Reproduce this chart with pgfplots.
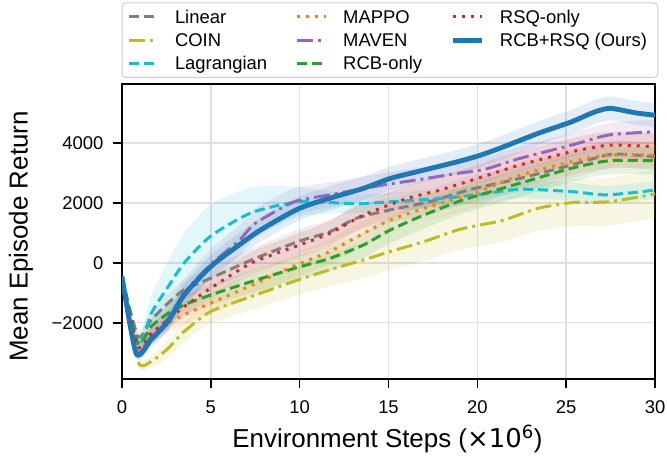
\documentclass[border=0pt]{standalone}
\usepackage{fontspec}
\setmainfont{Liberation Sans}
\newfontfamily\dejavu{DejaVu Sans}
\usepackage{pgfplots}
\pgfplotsset{compat=1.18}
\usepackage{pgfplotstable}
\usepgfplotslibrary{fillbetween}

\definecolor{tabblue}{HTML}{1F77B4}
\definecolor{taborange}{HTML}{FF7F0E}
\definecolor{tabgreen}{HTML}{2CA02C}
\definecolor{tabred}{HTML}{D62728}
\definecolor{tabpurple}{HTML}{9467BD}
\definecolor{tabgray}{HTML}{7F7F7F}
\definecolor{tabolive}{HTML}{BCBD22}
\definecolor{tabcyan}{HTML}{17BECF}

\pgfplotstableread{
x y s
0 -460 50
0.9 -2460 200
1.65 -1900 250
2.6 -1340 300
3.5 -900 330
5 -510 350
7.3 100 380
9.9 710 400
11.7 1040 400
13.2 1490 420
15.1 1770 420
17.3 2040 430
19.6 2450 440
22.4 2820 450
25.3 3270 450
27.6 3630 450
30 3540 450
}\tlinear

\pgfplotstableread{
x y s
0 -460 50
0.9 -3290 150
1.65 -3290 200
2.6 -2850 300
3.5 -2290 350
5 -1620 400
7.3 -1120 450
9.9 -570 500
11.7 -230 550
13.6 100 600
15.1 380 620
17 710 650
18.9 1100 680
20.2 1270 700
21.5 1430 720
23.4 1820 750
25.3 2010 780
27.4 2040 800
30 2300 800
}\tcoin

\pgfplotstableread{
x y s
0 -460 50
0.9 -2750 200
1.65 -1680 600
2.6 -790 850
3.5 0 1000
5 900 1050
7.3 1680 850
9.9 2040 500
11.9 2010 350
13.2 1970 320
15.1 2040 300
17.9 2150 300
20.2 2290 300
22.4 2460 300
25.3 2380 300
27.3 2270 300
30 2430 300
}\tlag

\pgfplotstableread{
x y s
0 -460 50
0.9 -2850 200
1.65 -2460 250
2.6 -2010 300
3.5 -1730 320
5 -1340 350
7.3 -750 380
9.7 -100 400
11.7 380 420
13.6 990 430
15.1 1430 440
17 1820 450
18.9 2160 450
20.2 2400 450
22.4 2930 450
25.3 3380 450
27.4 3600 450
30 3600 450
}\tmappo

\pgfplotstableread{
x y s
0 -460 50
0.8 -2950 200
1.65 -2450 300
2.6 -1850 400
3.5 -1000 450
5 -50 500
6.6 750 500
7.5 1320 500
9.7 2040 450
11.7 2270 420
14.7 2600 400
16.6 2770 400
18.9 2990 400
20.4 3120 400
22.4 3490 400
25.3 3930 400
27.4 4270 400
30 4380 400
}\tmaven

\pgfplotstableread{
x y s
0 -460 50
0.9 -2680 200
1.65 -2120 250
2.6 -1680 300
3.5 -1400 320
5 -1070 350
7.3 -620 380
9.9 -150 400
11.7 150 420
13.6 600 430
15.1 1100 440
17 1600 450
18.9 2040 450
20.2 2280 450
22.4 2660 450
25.3 3160 450
27.4 3410 450
30 3410 450
}\trcb

\pgfplotstableread{
x y s
0 -460 50
0.9 -2790 200
1.65 -2350 250
2.6 -1900 300
3.5 -1460 330
5 -840 350
7.3 0 380
10 600 400
11.7 990 420
13.6 1600 430
16.1 2160 440
17.9 2430 450
19.9 2800 450
22.4 3270 450
25.3 3710 450
27.4 3930 450
30 3880 450
}\trsq

\pgfplotstableread{
x y s
0 -460 50
0.8 -3030 150
1.65 -2550 250
2.6 -1950 300
3.5 -1070 350
5 -120 380
6.6 600 400
7.8 1100 400
9.9 1800 400
11.7 2160 400
13.6 2490 400
15.1 2820 400
17 3100 400
18.9 3380 400
20.2 3600 400
21.5 3880 400
23.4 4320 400
25.3 4710 400
26.6 5040 400
27.5 5160 400
28.9 5010 400
30 4930 400
}\tours

\newcommand{\band}[3]{%
\addplot[draw=none, smooth, tension=0.4, forget plot, name path=#3u] table[x=x, y expr=\thisrow{y}+\thisrow{s}] {#1};
\addplot[draw=none, smooth, tension=0.4, forget plot, name path=#3l] table[x=x, y expr=\thisrow{y}-\thisrow{s}] {#1};
\addplot[fill=#2, fill opacity=0.13, draw=none, forget plot] fill between[of=#3u and #3l];
}

\tikzset{
  dsh/.style={dash pattern=on 10bp off 5bp},
  dts/.style={dash pattern=on 3bp off 6bp},
  dsd/.style={dash pattern=on 16bp off 5bp on 3bp off 5bp},
}

\begin{document}
\begin{tikzpicture}
\begin{axis}[
  at={(0,0)}, anchor=south west,
  scale only axis, width=533bp, height=295bp,
  xmin=0, xmax=30, ymin=-3877, ymax=5973,
  xtick={0,5,...,30}, ytick={-2000,0,2000,4000},
  yticklabels={−2000,0,2000,4000},
  tick align=outside, tick pos=left,
  major tick length=9bp,
  xticklabel shift=9bp, yticklabel shift=6bp,
  every tick/.style={black, line width=1.6bp},
  axis line style={line width=1.6bp, black},
  grid=major, major grid style={black!12, line width=1.4bp},
  tick label style={font=\fontsize{18.5}{22}\selectfont},
  /pgf/number format/assume math mode=true,
  xlabel={Environment Steps ({\dejavu ×10\textsuperscript{6}})},
  ylabel={Mean Episode Return},
  xlabel style={at={(axis description cs:0.498,-0.232)}, anchor=base, font=\fontsize{26}{30}\selectfont},
  every axis y label/.style={at={(axis description cs:-0.1769,0.483)}, rotate=90, anchor=base, font=\fontsize{26}{30}\selectfont},
  line cap=butt, line join=round,
  legend image code/.code={\draw[#1] (0bp,0bp) -- (29bp,0bp);},
  legend columns=3,
  legend cell align=left,
  legend style={at={(axis description cs:0,1.2746)}, anchor=north west,
    draw=black!20, line width=1bp, rounded corners=4bp, fill=white,
    fill opacity=0.8, text opacity=1, inner xsep=5bp, inner ysep=2.3bp, outer sep=0pt,
    font=\fontsize{18.5}{22}\selectfont,
    nodes={inner xsep=6bp, inner ysep=1.2bp, text height=16.9bp, text depth=4bp},
    /tikz/every odd column/.append style={column sep=10bp},
    /tikz/every even column/.append style={column sep=22bp}},
]
\band{\tlinear}{tabgray}{lin}
\addplot[tabgray, line width=3bp, dsh, smooth, tension=0.4, forget plot] table[x=x,y=y] {\tlinear};
\band{\tcoin}{tabolive}{coin}
\addplot[tabolive, line width=3bp, dsd, smooth, tension=0.4, forget plot] table[x=x,y=y] {\tcoin};
\band{\tlag}{tabcyan}{lag}
\addplot[tabcyan, line width=3bp, dsh, smooth, tension=0.4, forget plot] table[x=x,y=y] {\tlag};
\band{\tmappo}{taborange}{map}
\addplot[taborange, line width=3bp, dts, smooth, tension=0.4, forget plot] table[x=x,y=y] {\tmappo};
\band{\tmaven}{tabpurple}{mav}
\addplot[tabpurple, line width=3bp, dsd, smooth, tension=0.4, forget plot] table[x=x,y=y] {\tmaven};
\band{\trcb}{tabgreen}{rcb}
\addplot[tabgreen, line width=3bp, dsh, smooth, tension=0.4, forget plot] table[x=x,y=y] {\trcb};
\band{\trsq}{tabred}{rsq}
\addplot[tabred, line width=3bp, dts, smooth, tension=0.4, forget plot] table[x=x,y=y] {\trsq};
\band{\tours}{tabblue}{ours}
\addplot[tabblue, line width=4.9bp, smooth, tension=0.4, forget plot] table[x=x,y=y] {\tours};

\addlegendimage{tabgray, line width=3bp, dsh}\addlegendentry{Linear}
\addlegendimage{taborange, line width=3bp, dts}\addlegendentry{MAPPO}
\addlegendimage{tabred, line width=3bp, dts}\addlegendentry{RSQ-only}
\addlegendimage{tabolive, line width=3bp, dsd}\addlegendentry{COIN}
\addlegendimage{tabpurple, line width=3bp, dsd}\addlegendentry{MAVEN}
\addlegendimage{tabblue, line width=4.9bp}\addlegendentry{RCB+RSQ (Ours)}
\addlegendimage{tabcyan, line width=3bp, dsh}\addlegendentry{Lagrangian}
\addlegendimage{tabgreen, line width=3bp, dsh}\addlegendentry{RCB-only}
\end{axis}
\pgfresetboundingbox
\path[use as bounding box] (-122bp,-82bp) rectangle (545bp,379bp);
\end{tikzpicture}
\end{document}
